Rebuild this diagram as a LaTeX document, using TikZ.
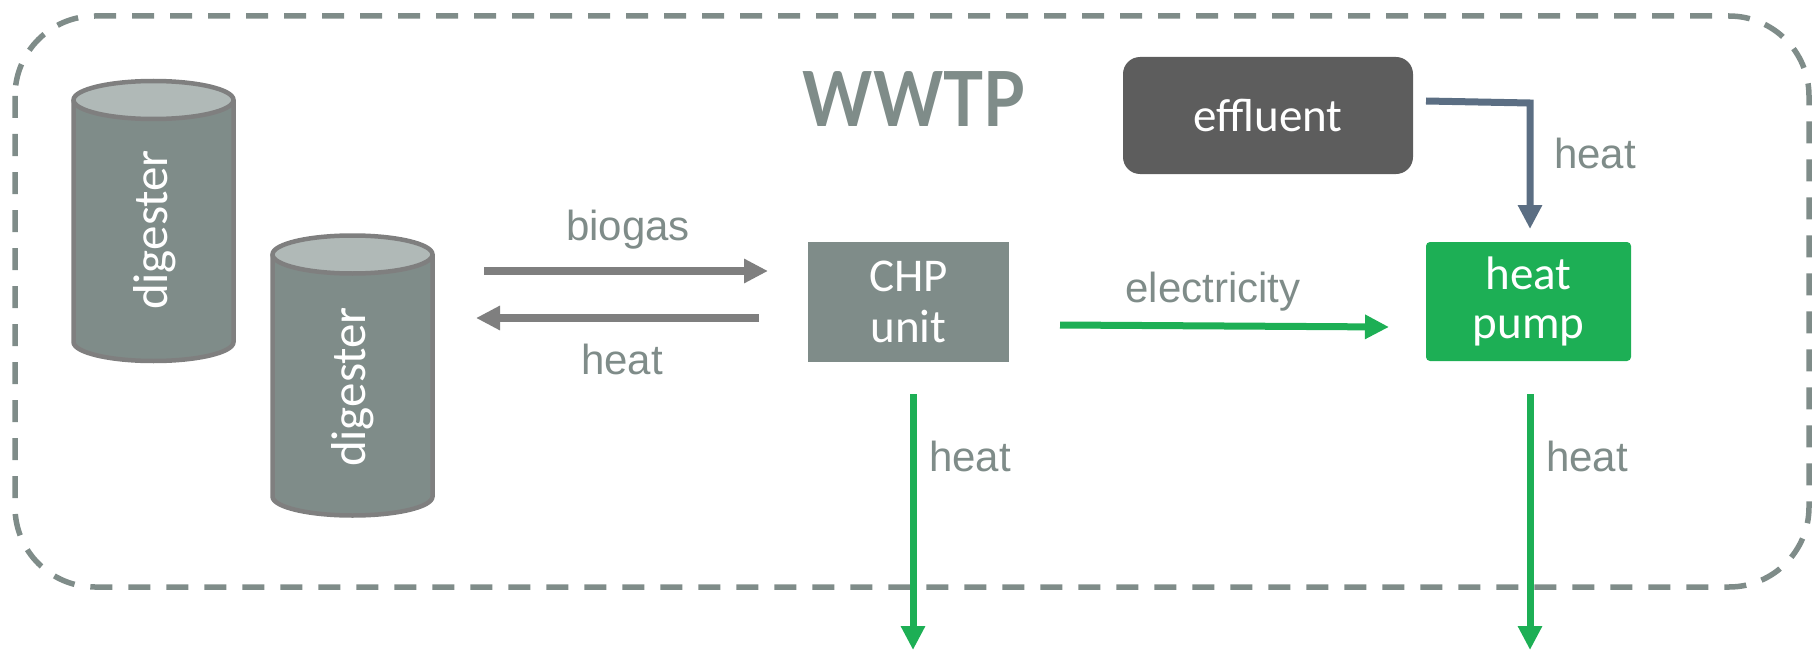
\documentclass[tikz,border=0pt]{standalone}
\usepackage{fontspec}
\setmainfont{Liberation Sans}
\newfontfamily\nodefont{Carlito}
\newfontfamily\titlefont{Lato}[FakeStretch=0.88]
\usetikzlibrary{arrows.meta}
\definecolor{tealgray}{HTML}{7F8C89}
\definecolor{midgray}{HTML}{7F7F7F}
\definecolor{topgray}{HTML}{B0B9B7}
\definecolor{flowgreen}{HTML}{1DAF55}
\definecolor{slate}{HTML}{5B6E83}
\definecolor{darkbox}{HTML}{5D5D5D}
\tikzset{
  frame/.style={draw=tealgray, line width=5.5pt, dash pattern=on 22pt off 16pt, rounded corners=80pt},
  cylbody/.style={fill=tealgray},
  cylline/.style={draw=midgray, line width=4.5pt},
  cyltop/.style={fill=topgray, draw=midgray, line width=4.5pt},
  digtext/.style={text=white, font=\nodefont\fontsize{49}{55}\selectfont, inner sep=0pt},
  boxtext/.style={text=white, align=center, inner sep=0pt, outer sep=0pt},
  chpbox/.style={boxtext, fill=tealgray, font=\nodefont\fontsize{47}{51}\selectfont},
  hpbox/.style={boxtext, fill=flowgreen, rounded corners=4pt, font=\nodefont\fontsize{47}{49}\selectfont},
  effbox/.style={boxtext, fill=darkbox, rounded corners=17pt, font=\nodefont\fontsize{47}{51}\selectfont},
  lbl/.style={text=tealgray, font=\fontsize{42}{48}\selectfont, inner sep=0pt},
  title/.style={text=tealgray, font=\titlefont\bfseries\fontsize{76}{80}\selectfont, inner sep=0pt},
  tip/.style={-{Triangle[length=24pt,width=23pt]}},
  grayflow/.style={tip, draw=midgray, line width=8.5pt},
  greenflow/.style={tip, draw=flowgreen, line width=7pt},
  slateflow/.style={tip, draw=slate, line width=7pt, line join=miter},
}
\begin{document}
\begin{tikzpicture}[x=1pt,y=1pt]
\useasboundingbox (0,0) rectangle (1812,-650);
% frame
\draw[frame] (15,-16) rectangle (1809,-587);
\node[title, anchor=base] (wwtp) at (914,-127) {WWTP};
% digester 1
\fill[cylbody] (73.5,-100) -- (73.5,-342) arc[start angle=180, end angle=360, x radius=80, y radius=19] -- (233.5,-100) -- cycle;
\draw[cylline] (73.5,-100) -- (73.5,-342) arc[start angle=180, end angle=360, x radius=80, y radius=19] -- (233.5,-100);
\draw[cyltop] (153.5,-100) ellipse [x radius=80, y radius=19];
\node[digtext, rotate=90] (dig1) at (155,-230) {digester};
% digester 2
\fill[cylbody] (272.5,-254.5) -- (272.5,-496.5) arc[start angle=180, end angle=360, x radius=80, y radius=19] -- (432.5,-254.5) -- cycle;
\draw[cylline] (272.5,-254.5) -- (272.5,-496.5) arc[start angle=180, end angle=360, x radius=80, y radius=19] -- (432.5,-254.5);
\draw[cyltop] (352.5,-254.5) ellipse [x radius=80, y radius=19];
\node[digtext, rotate=90] (dig2) at (353,-387) {digester};
% boxes
\node[chpbox, minimum width=201pt, minimum height=120pt] (chp) at (908.5,-302) {CHP\\unit};
\node[hpbox, minimum width=205pt, minimum height=119pt] (hp) at (1528.5,-301.5) {heat\\pump};
\node[effbox, minimum width=290pt, minimum height=117pt] (eff) at (1268,-115.5) {effluent};
% connector ends
\coordinate (bgS) at (484,-271);
\coordinate (bgE) at (768,-271);
\coordinate (htS) at (759,-318);
\coordinate (htE) at (476,-318);
\coordinate (elS) at (1060,-325);
\coordinate (elE) at (1389,-327);
\coordinate (efS) at (1426,-101);
\coordinate (efC) at (1530,-103);
\coordinate (efE) at (1530,-229);
\coordinate (chS) at (913,-394);
\coordinate (chE) at (913,-650);
\coordinate (hpS) at (1530,-394);
\coordinate (hpE) at (1530,-650);
% arrows
\draw[grayflow] (bgS) -- (bgE);
\draw[grayflow] (htS) -- (htE);
\draw[greenflow] (elS) -- (elE);
\draw[slateflow] (efS) -- (efC) -- (efE);
\draw[greenflow] (chS) -- (chE);
\draw[greenflow] (hpS) -- (hpE);
% labels
\node[lbl, anchor=base] (lbiogas) at (628,-240) {biogas};
\node[lbl, anchor=base] (lheatback) at (622,-374) {heat};
\node[lbl, anchor=base] (lelec) at (1213,-302) {electricity};
\node[lbl, anchor=base west] (lheateff) at (1554,-168) {heat};
\node[lbl, anchor=base west] (lheatchp) at (929,-471) {heat};
\node[lbl, anchor=base west] (lheathp) at (1546,-471) {heat};
\end{tikzpicture}
\end{document}
